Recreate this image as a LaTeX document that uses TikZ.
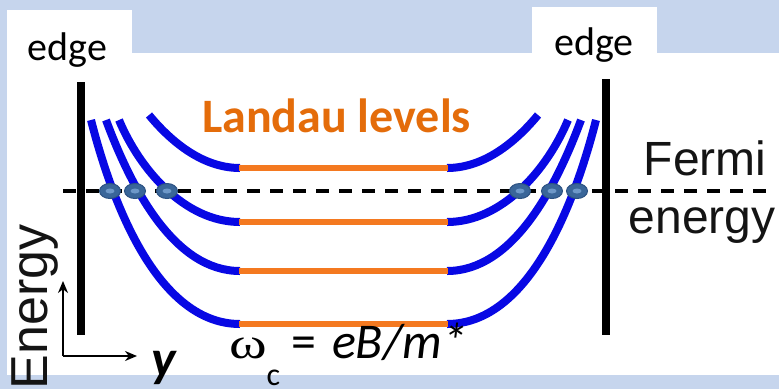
\documentclass[tikz,border=0pt]{standalone}
\usepackage{fontspec}
\setmainfont{Carlito}
\newfontfamily\arialf{Liberation Sans}
\newfontfamily\timesf{Liberation Serif}
\usetikzlibrary{arrows.meta,shapes.geometric}
\definecolor{bgblue}{RGB}{198,213,237}
\definecolor{lvlorange}{RGB}{244,121,32}
\definecolor{txtorange}{RGB}{228,108,10}
\definecolor{curveblue}{RGB}{8,8,228}
\definecolor{dotfill}{RGB}{58,102,153}
\definecolor{dotedge}{RGB}{44,82,130}
\definecolor{dotlight}{RGB}{110,152,200}
\tikzset{
  edgewall/.style={line width=7.5pt, black},
  bluecurve/.style={line width=8pt, curveblue},
  orangelevel/.style={line width=6.5pt, lvlorange},
  fermiline/.style={line width=4.5pt, black, dash pattern=on 13pt off 10pt},
  axisarrow/.style={line width=2.2pt, black, -{Stealth[length=12pt,width=10pt]}},
  electron/.style={ellipse, minimum width=21pt, minimum height=15pt, inner sep=0pt, fill=dotfill, draw=dotedge, line width=1pt},
  plain/.style={inner sep=0pt, outer sep=0pt}
}
\begin{document}
\begin{tikzpicture}[x=1pt,y=-1pt]
\useasboundingbox (0,0) rectangle (779,389);
% background
\fill[bgblue] (0,0) rectangle (779,389);
\fill[white] (7,53) rectangle (779,375);
\fill[white] (7,10) rectangle (132,53);
\fill[white] (532,7) rectangle (657,53);

% edge walls
\coordinate (wl1) at (81,82);  \coordinate (wl2) at (81,335);
\coordinate (wr1) at (606,79); \coordinate (wr2) at (606,335);
\draw[edgewall] (wl1) -- (wl2);
\draw[edgewall] (wr1) -- (wr2);

% fermi line
\coordinate (f1) at (63,191); \coordinate (f2) at (768,191);
\draw[fermiline] (f1) -- (f2);

% blue curves (left) and mirrored (right)
\foreach \sc/\sh in {1/0, -1/687} {
\begin{scope}[shift={(\sh,0)}, xscale=\sc]
  \draw[bluecurve] (240,168) .. controls (200,168) and (168,138) .. (149,115);
  \draw[bluecurve] (240,222) .. controls (185,222) and (140,170) .. (119,120);
  \draw[bluecurve] (240,271) .. controls (175,271) and (132,190) .. (106,120);
  \draw[bluecurve] (240,324) .. controls (160,324) and (114,210) .. (91,120);
\end{scope}
}

% orange levels
\foreach \yy [count=\i] in {168,222,271,324} {
  \coordinate (la\i) at (239,\yy);
  \coordinate (lb\i) at (448,\yy);
  \draw[orangelevel] (la\i) -- (lb\i);
}

% electrons
\foreach \xx [count=\i] in {110,135,167,520,552,577} {
  \node[electron] (e\i) at (\xx,191) {};
  \fill[dotlight] (\xx,191) ellipse (4.5pt and 2.5pt);
}

% axes
\coordinate (o) at (63,356);
\coordinate (ytip) at (63,281);
\coordinate (xtip) at (137,356);
\draw[axisarrow] (o) -- (ytip);
\draw[axisarrow] (o) -- (xtip);

% texts
\node[plain, anchor=base, font=\fontsize{40}{48}\selectfont] (edgeL) at (67.5,60) {edge};
\node[plain, anchor=base, font=\fontsize{40}{48}\selectfont] (edgeR) at (594,55) {edge};
\node[plain, anchor=base, text=txtorange, font=\fontsize{48}{56}\selectfont\bfseries] (landau) at (336.5,132) {Landau levels};
\node[plain, anchor=base, text=black!92, font=\arialf\fontsize{48}{56}\selectfont] (fermi) at (705,175) {Fermi};
\node[plain, anchor=base, text=black!92, font=\arialf\fontsize{48}{56}\selectfont] (energy) at (702,233) {energy};
\node[plain, rotate=90, anchor=base west, text=black!92, font=\arialf\fontsize{52}{60}\selectfont] (elab) at (47,389) {Energy};
\node[plain, anchor=base, font=\fontsize{52}{60}\selectfont\bfseries\itshape] (ylab) at (164,376) {y};
\node[plain, anchor=base west, font=\fontsize{50}{60}\selectfont] (formula) at (229,358)
  {\scalebox{1.3}[1]{\timesf\fontsize{44}{50}\selectfont ω}\raisebox{-27pt}{\fontsize{32}{32}\selectfont c}\hspace{11pt}=\hspace{16pt}\textit{eB/m*}};
\end{tikzpicture}
\end{document}
